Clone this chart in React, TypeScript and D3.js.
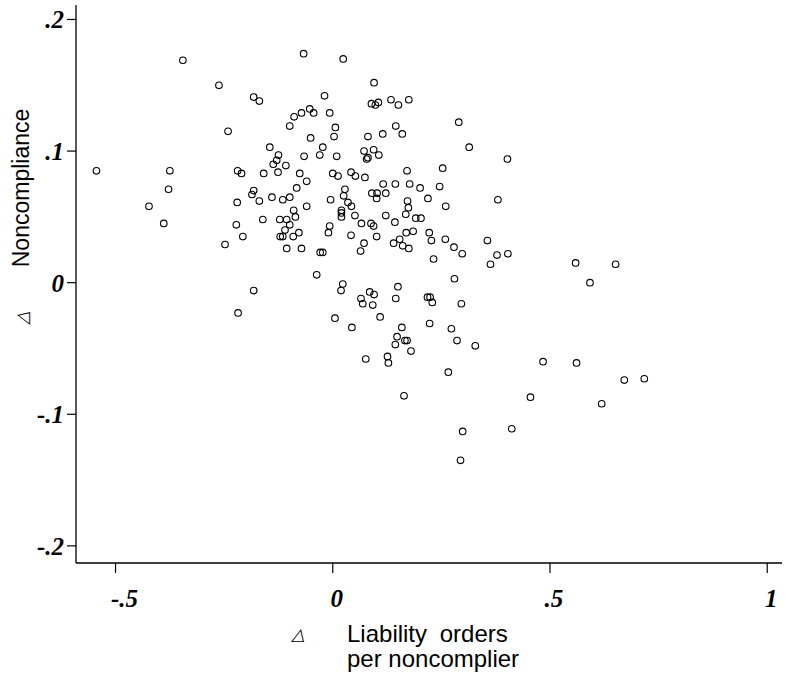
import React from "react";
import * as d3 from "d3";

// Δ Liability orders per noncomplier (x) vs Δ Noncompliance (y)
const xValues: number[] = [
  -0.345, -0.262, -0.182, -0.169, -0.089, -0.099, -0.241, -0.145, -0.125, -0.129,
  -0.137, -0.108, -0.544, -0.375, -0.219, -0.21, -0.159, -0.126, -0.083, -0.378,
  -0.182, -0.186, -0.169, -0.14, -0.115, -0.099, -0.423, -0.22, -0.09, -0.389,
  -0.161, -0.122, -0.106, -0.086, -0.099, -0.222, -0.207, -0.11, -0.121, -0.115,
  -0.091, -0.078, -0.248, -0.106, -0.067, 0.024, 0.095, -0.019, 0.089, 0.098,
  0.105, 0.134, 0.151, 0.175, -0.053, -0.072, -0.044, -0.007, 0.29, 0.006,
  0.003, -0.051, 0.081, 0.115, 0.145, 0.16, 0.314, -0.023, -0.03, 0.009,
  -0.066, 0.072, 0.094, 0.081, 0.078, 0.106, 0.402, 0.253, 0.171, -0.076,
  -0.06, 0.0, 0.012, 0.042, 0.052, 0.074, 0.116, 0.144, 0.177, 0.201,
  0.246, 0.028, 0.025, 0.09, 0.102, 0.122, 0.101, -0.005, 0.035, 0.043,
  -0.06, 0.172, 0.174, 0.219, 0.26, 0.38, 0.02, 0.02, 0.02, 0.051,
  0.122, 0.168, 0.143, 0.191, 0.203, -0.007, -0.01, 0.066, 0.088, 0.094,
  0.042, 0.101, 0.169, 0.185, 0.222, 0.227, 0.259, 0.279, 0.356, -0.072,
  -0.029, -0.023, 0.064, 0.072, 0.14, 0.154, 0.161, 0.175, 0.298, 0.378,
  0.403, 0.232, 0.363, -0.037, 0.28, 0.023, 0.019, 0.085, 0.095, 0.15,
  0.145, 0.065, 0.069, 0.092, 0.218, 0.224, 0.229, 0.296, 0.005, 0.044,
  0.109, 0.159, 0.223, 0.273, 0.286, 0.328, 0.148, 0.144, 0.166, 0.171,
  0.18, 0.076, 0.126, 0.128, 0.266, 0.164, 0.299, 0.294, -0.182, -0.218,
  0.559, 0.651, 0.592, 0.484, 0.561, 0.671, 0.717, 0.455, 0.619, 0.412,
];

const yValues: number[] = [
  0.169, 0.15, 0.141, 0.138, 0.126, 0.119, 0.115, 0.103, 0.097, 0.093,
  0.09, 0.089, 0.085, 0.085, 0.085, 0.083, 0.083, 0.084, 0.072, 0.071,
  0.07, 0.067, 0.062, 0.065, 0.063, 0.065, 0.058, 0.061, 0.055, 0.045,
  0.048, 0.048, 0.048, 0.05, 0.044, 0.044, 0.035, 0.04, 0.035, 0.035,
  0.035, 0.038, 0.029, 0.026, 0.174, 0.17, 0.152, 0.142, 0.136, 0.135,
  0.137, 0.139, 0.135, 0.139, 0.132, 0.129, 0.129, 0.129, 0.122, 0.118,
  0.111, 0.11, 0.111, 0.113, 0.119, 0.113, 0.103, 0.103, 0.097, 0.096,
  0.096, 0.1, 0.101, 0.095, 0.094, 0.097, 0.094, 0.087, 0.085, 0.083,
  0.077, 0.083, 0.081, 0.084, 0.081, 0.08, 0.075, 0.075, 0.075, 0.072,
  0.073, 0.071, 0.066, 0.068, 0.068, 0.068, 0.064, 0.063, 0.061, 0.058,
  0.058, 0.062, 0.057, 0.064, 0.058, 0.063, 0.055, 0.053, 0.05, 0.051,
  0.051, 0.052, 0.046, 0.049, 0.049, 0.043, 0.038, 0.045, 0.045, 0.043,
  0.036, 0.035, 0.038, 0.039, 0.038, 0.032, 0.033, 0.027, 0.032, 0.026,
  0.023, 0.023, 0.024, 0.03, 0.03, 0.033, 0.028, 0.026, 0.022, 0.021,
  0.022, 0.018, 0.014, 0.006, 0.003, -0.001, -0.006, -0.007, -0.009, -0.003,
  -0.012, -0.012, -0.016, -0.017, -0.011, -0.011, -0.015, -0.016, -0.027, -0.034,
  -0.026, -0.034, -0.031, -0.035, -0.044, -0.048, -0.041, -0.047, -0.044, -0.044,
  -0.052, -0.058, -0.056, -0.061, -0.068, -0.086, -0.113, -0.135, -0.006, -0.023,
  0.015, 0.014, 0.0, -0.06, -0.061, -0.074, -0.073, -0.087, -0.092, -0.111,
];

const xTicks: number[] = [-0.5, 0, 0.5, 1];
const xTickLabels: string[] = ["-.5", "0", ".5", "1"];
const yTicks: number[] = [0.2, 0.1, 0, -0.1, -0.2];
const yTickLabels: string[] = [".2", ".1", "0", "-.1", "-.2"];

const W = 785;
const H = 687;

export default function App() {
  const x = d3.scaleLinear().domain([-0.591, 1.034]).range([76, 782]);
  const y = d3.scaleLinear().domain([-0.213, 0.211]).range([563, 5]);
  const points = xValues.map((v, i) => [v, yValues[i]] as [number, number]);
  const tickFont = "'Liberation Serif', 'Times New Roman', serif";
  const titleFont = "'Liberation Sans', Arial, Helvetica, sans-serif";
  const symFont = "'DejaVu Sans', sans-serif";

  return (
    <svg
      width={W}
      height={H}
      style={{ position: "absolute", left: 0, top: 0, background: "#fff" }}
    >
      <rect x={0} y={0} width={W} height={H} fill="#fff" />
      {/* axes */}
      <line x1={x.range()[0]} x2={x.range()[0]} y1={y.range()[1]} y2={y.range()[0]} stroke="#000" strokeWidth={1.3} />
      <line x1={x.range()[0]} x2={x.range()[1]} y1={y.range()[0]} y2={y.range()[0]} stroke="#000" strokeWidth={1.3} />

      {yTicks.map((t, i) => (
        <g key={"yt" + i}>
          <line x1={x.range()[0] - 9} x2={x.range()[0]} y1={y(t)} y2={y(t)} stroke="#000" strokeWidth={1.2} />
          <text
            x={x.range()[0] - 12}
            y={y(t) + 9}
            textAnchor="end"
            fontFamily={tickFont}
            fontStyle="italic"
            fontWeight="bold"
            fontSize={25}
            fill="#000"
          >
            {yTickLabels[i]}
          </text>
        </g>
      ))}

      {xTicks.map((t, i) => (
        <g key={"xt" + i}>
          <line x1={x(t)} x2={x(t)} y1={y.range()[0]} y2={y.range()[0] + 10} stroke="#000" strokeWidth={1.2} />
          <text
            x={x(t) + (xTickLabels[i].startsWith("-") ? 9 : 4)}
            y={607}
            textAnchor="middle"
            fontFamily={tickFont}
            fontStyle="italic"
            fontWeight="bold"
            fontSize={25}
            fill="#000"
          >
            {xTickLabels[i]}
          </text>
        </g>
      ))}

      {points.map((p, i) => (
        <circle
          key={"p" + i}
          cx={x(p[0])}
          cy={y(p[1])}
          r={3.3}
          fill="none"
          stroke="#000"
          strokeWidth={1.1}
        />
      ))}

      {/* y-axis title */}
      <text
        transform={`translate(29, 188) rotate(-90)`}
        textAnchor="middle"
        fontFamily={titleFont}
        fontSize={23}
        fill="#000"
      >
        Noncompliance
      </text>
      <text
        transform={`translate(28, 318) rotate(-90) skewX(-15)`}
        textAnchor="middle"
        fontFamily={symFont}
        fontSize={17}
        fill="#000"
      >
        △
      </text>

      {/* x-axis title */}
      <text
        transform={`translate(298, 640) skewX(-15)`}
        textAnchor="middle"
        fontFamily={symFont}
        fontSize={17}
        fill="#000"
      >
        △
      </text>
      <text x={347} y={642} fontFamily={titleFont} fontSize={24} fill="#000" wordSpacing={6}>
        Liability orders
      </text>
      <text x={347} y={667} fontFamily={titleFont} fontSize={24} fill="#000">
        per noncomplier
      </text>
    </svg>
  );
}
